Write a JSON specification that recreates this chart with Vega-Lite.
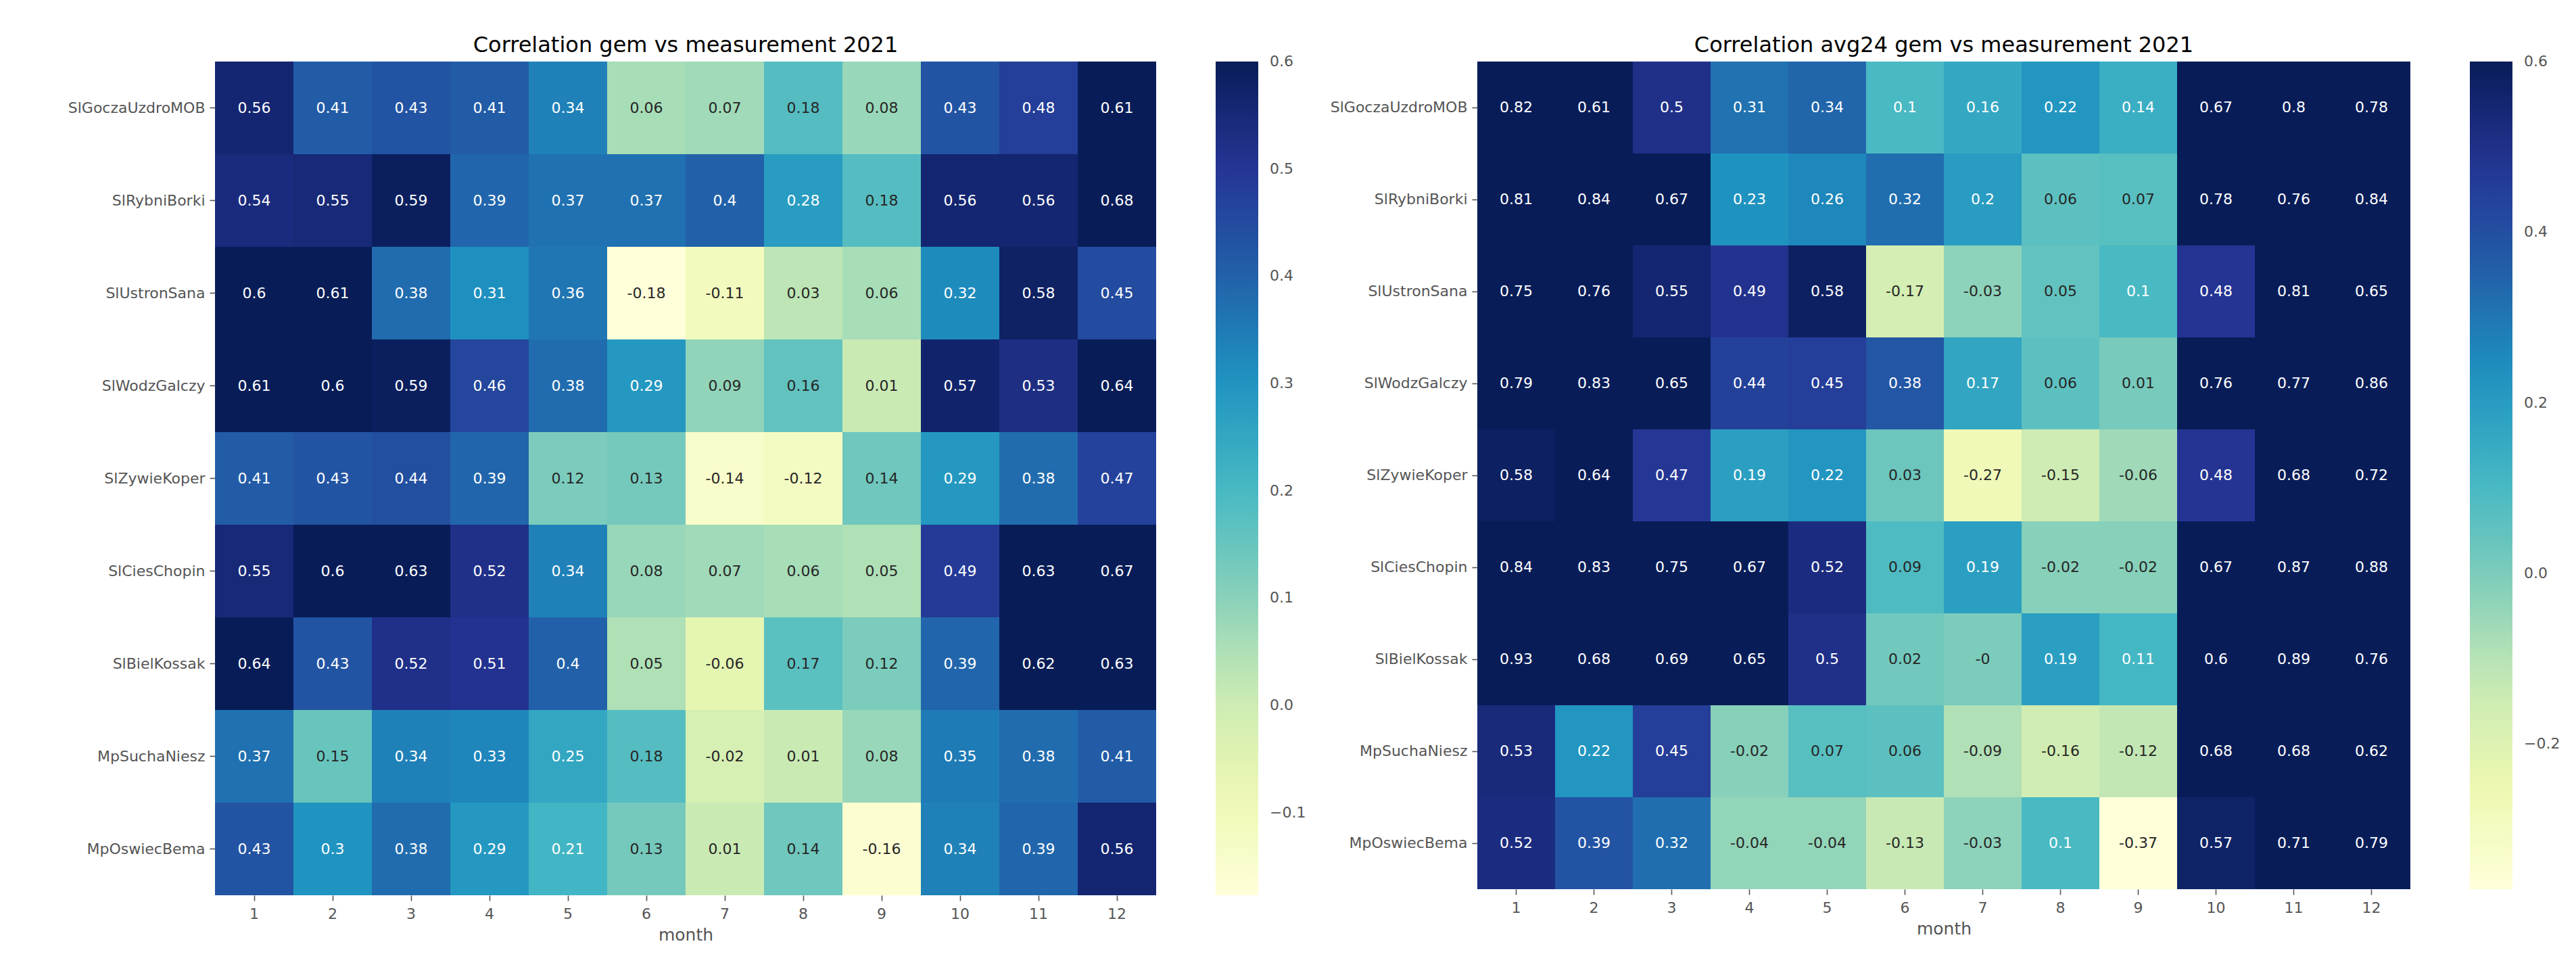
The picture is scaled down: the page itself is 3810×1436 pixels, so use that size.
{
  "$schema": "https://vega.github.io/schema/vega-lite/v6.json",
  "background": "white",
  "padding": {"left": 100, "top": 51, "right": 10, "bottom": 10},
  "config": {
    "font": "DejaVu Sans",
    "view": {"stroke": null},
    "axis": {
      "labelFont": "DejaVu Sans", "labelFontSize": 22, "labelColor": "#555555", "labelLimit": 0,
      "tickColor": "#555555", "tickSize": 8, "tickWidth": 1.6,
      "domain": false, "grid": false,
      "titleFont": "DejaVu Sans", "titleFontSize": 25, "titleFontWeight": "normal", "titleColor": "#555555"
    },
    "title": {"font": "DejaVu Sans", "fontSize": 32, "fontWeight": "normal", "color": "#000000", "frame": "group", "anchor": "middle", "baseline": "alphabetic", "offset": 7}
  },
  "datasets": {
    "gem": [
      {"station":"SlGoczaUzdroMOB","month":1,"value":0.56,"label":"0.56"},
      {"station":"SlGoczaUzdroMOB","month":2,"value":0.41,"label":"0.41"},
      {"station":"SlGoczaUzdroMOB","month":3,"value":0.43,"label":"0.43"},
      {"station":"SlGoczaUzdroMOB","month":4,"value":0.41,"label":"0.41"},
      {"station":"SlGoczaUzdroMOB","month":5,"value":0.34,"label":"0.34"},
      {"station":"SlGoczaUzdroMOB","month":6,"value":0.06,"label":"0.06"},
      {"station":"SlGoczaUzdroMOB","month":7,"value":0.07,"label":"0.07"},
      {"station":"SlGoczaUzdroMOB","month":8,"value":0.18,"label":"0.18"},
      {"station":"SlGoczaUzdroMOB","month":9,"value":0.08,"label":"0.08"},
      {"station":"SlGoczaUzdroMOB","month":10,"value":0.43,"label":"0.43"},
      {"station":"SlGoczaUzdroMOB","month":11,"value":0.48,"label":"0.48"},
      {"station":"SlGoczaUzdroMOB","month":12,"value":0.61,"label":"0.61"},
      {"station":"SlRybniBorki","month":1,"value":0.54,"label":"0.54"},
      {"station":"SlRybniBorki","month":2,"value":0.55,"label":"0.55"},
      {"station":"SlRybniBorki","month":3,"value":0.59,"label":"0.59"},
      {"station":"SlRybniBorki","month":4,"value":0.39,"label":"0.39"},
      {"station":"SlRybniBorki","month":5,"value":0.37,"label":"0.37"},
      {"station":"SlRybniBorki","month":6,"value":0.37,"label":"0.37"},
      {"station":"SlRybniBorki","month":7,"value":0.4,"label":"0.4"},
      {"station":"SlRybniBorki","month":8,"value":0.28,"label":"0.28"},
      {"station":"SlRybniBorki","month":9,"value":0.18,"label":"0.18"},
      {"station":"SlRybniBorki","month":10,"value":0.56,"label":"0.56"},
      {"station":"SlRybniBorki","month":11,"value":0.56,"label":"0.56"},
      {"station":"SlRybniBorki","month":12,"value":0.68,"label":"0.68"},
      {"station":"SlUstronSana","month":1,"value":0.6,"label":"0.6"},
      {"station":"SlUstronSana","month":2,"value":0.61,"label":"0.61"},
      {"station":"SlUstronSana","month":3,"value":0.38,"label":"0.38"},
      {"station":"SlUstronSana","month":4,"value":0.31,"label":"0.31"},
      {"station":"SlUstronSana","month":5,"value":0.36,"label":"0.36"},
      {"station":"SlUstronSana","month":6,"value":-0.18,"label":"-0.18"},
      {"station":"SlUstronSana","month":7,"value":-0.11,"label":"-0.11"},
      {"station":"SlUstronSana","month":8,"value":0.03,"label":"0.03"},
      {"station":"SlUstronSana","month":9,"value":0.06,"label":"0.06"},
      {"station":"SlUstronSana","month":10,"value":0.32,"label":"0.32"},
      {"station":"SlUstronSana","month":11,"value":0.58,"label":"0.58"},
      {"station":"SlUstronSana","month":12,"value":0.45,"label":"0.45"},
      {"station":"SlWodzGalczy","month":1,"value":0.61,"label":"0.61"},
      {"station":"SlWodzGalczy","month":2,"value":0.6,"label":"0.6"},
      {"station":"SlWodzGalczy","month":3,"value":0.59,"label":"0.59"},
      {"station":"SlWodzGalczy","month":4,"value":0.46,"label":"0.46"},
      {"station":"SlWodzGalczy","month":5,"value":0.38,"label":"0.38"},
      {"station":"SlWodzGalczy","month":6,"value":0.29,"label":"0.29"},
      {"station":"SlWodzGalczy","month":7,"value":0.09,"label":"0.09"},
      {"station":"SlWodzGalczy","month":8,"value":0.16,"label":"0.16"},
      {"station":"SlWodzGalczy","month":9,"value":0.01,"label":"0.01"},
      {"station":"SlWodzGalczy","month":10,"value":0.57,"label":"0.57"},
      {"station":"SlWodzGalczy","month":11,"value":0.53,"label":"0.53"},
      {"station":"SlWodzGalczy","month":12,"value":0.64,"label":"0.64"},
      {"station":"SlZywieKoper","month":1,"value":0.41,"label":"0.41"},
      {"station":"SlZywieKoper","month":2,"value":0.43,"label":"0.43"},
      {"station":"SlZywieKoper","month":3,"value":0.44,"label":"0.44"},
      {"station":"SlZywieKoper","month":4,"value":0.39,"label":"0.39"},
      {"station":"SlZywieKoper","month":5,"value":0.12,"label":"0.12"},
      {"station":"SlZywieKoper","month":6,"value":0.13,"label":"0.13"},
      {"station":"SlZywieKoper","month":7,"value":-0.14,"label":"-0.14"},
      {"station":"SlZywieKoper","month":8,"value":-0.12,"label":"-0.12"},
      {"station":"SlZywieKoper","month":9,"value":0.14,"label":"0.14"},
      {"station":"SlZywieKoper","month":10,"value":0.29,"label":"0.29"},
      {"station":"SlZywieKoper","month":11,"value":0.38,"label":"0.38"},
      {"station":"SlZywieKoper","month":12,"value":0.47,"label":"0.47"},
      {"station":"SlCiesChopin","month":1,"value":0.55,"label":"0.55"},
      {"station":"SlCiesChopin","month":2,"value":0.6,"label":"0.6"},
      {"station":"SlCiesChopin","month":3,"value":0.63,"label":"0.63"},
      {"station":"SlCiesChopin","month":4,"value":0.52,"label":"0.52"},
      {"station":"SlCiesChopin","month":5,"value":0.34,"label":"0.34"},
      {"station":"SlCiesChopin","month":6,"value":0.08,"label":"0.08"},
      {"station":"SlCiesChopin","month":7,"value":0.07,"label":"0.07"},
      {"station":"SlCiesChopin","month":8,"value":0.06,"label":"0.06"},
      {"station":"SlCiesChopin","month":9,"value":0.05,"label":"0.05"},
      {"station":"SlCiesChopin","month":10,"value":0.49,"label":"0.49"},
      {"station":"SlCiesChopin","month":11,"value":0.63,"label":"0.63"},
      {"station":"SlCiesChopin","month":12,"value":0.67,"label":"0.67"},
      {"station":"SlBielKossak","month":1,"value":0.64,"label":"0.64"},
      {"station":"SlBielKossak","month":2,"value":0.43,"label":"0.43"},
      {"station":"SlBielKossak","month":3,"value":0.52,"label":"0.52"},
      {"station":"SlBielKossak","month":4,"value":0.51,"label":"0.51"},
      {"station":"SlBielKossak","month":5,"value":0.4,"label":"0.4"},
      {"station":"SlBielKossak","month":6,"value":0.05,"label":"0.05"},
      {"station":"SlBielKossak","month":7,"value":-0.06,"label":"-0.06"},
      {"station":"SlBielKossak","month":8,"value":0.17,"label":"0.17"},
      {"station":"SlBielKossak","month":9,"value":0.12,"label":"0.12"},
      {"station":"SlBielKossak","month":10,"value":0.39,"label":"0.39"},
      {"station":"SlBielKossak","month":11,"value":0.62,"label":"0.62"},
      {"station":"SlBielKossak","month":12,"value":0.63,"label":"0.63"},
      {"station":"MpSuchaNiesz","month":1,"value":0.37,"label":"0.37"},
      {"station":"MpSuchaNiesz","month":2,"value":0.15,"label":"0.15"},
      {"station":"MpSuchaNiesz","month":3,"value":0.34,"label":"0.34"},
      {"station":"MpSuchaNiesz","month":4,"value":0.33,"label":"0.33"},
      {"station":"MpSuchaNiesz","month":5,"value":0.25,"label":"0.25"},
      {"station":"MpSuchaNiesz","month":6,"value":0.18,"label":"0.18"},
      {"station":"MpSuchaNiesz","month":7,"value":-0.02,"label":"-0.02"},
      {"station":"MpSuchaNiesz","month":8,"value":0.01,"label":"0.01"},
      {"station":"MpSuchaNiesz","month":9,"value":0.08,"label":"0.08"},
      {"station":"MpSuchaNiesz","month":10,"value":0.35,"label":"0.35"},
      {"station":"MpSuchaNiesz","month":11,"value":0.38,"label":"0.38"},
      {"station":"MpSuchaNiesz","month":12,"value":0.41,"label":"0.41"},
      {"station":"MpOswiecBema","month":1,"value":0.43,"label":"0.43"},
      {"station":"MpOswiecBema","month":2,"value":0.3,"label":"0.3"},
      {"station":"MpOswiecBema","month":3,"value":0.38,"label":"0.38"},
      {"station":"MpOswiecBema","month":4,"value":0.29,"label":"0.29"},
      {"station":"MpOswiecBema","month":5,"value":0.21,"label":"0.21"},
      {"station":"MpOswiecBema","month":6,"value":0.13,"label":"0.13"},
      {"station":"MpOswiecBema","month":7,"value":0.01,"label":"0.01"},
      {"station":"MpOswiecBema","month":8,"value":0.14,"label":"0.14"},
      {"station":"MpOswiecBema","month":9,"value":-0.16,"label":"-0.16"},
      {"station":"MpOswiecBema","month":10,"value":0.34,"label":"0.34"},
      {"station":"MpOswiecBema","month":11,"value":0.39,"label":"0.39"},
      {"station":"MpOswiecBema","month":12,"value":0.56,"label":"0.56"}
    ],
    "avg24": [
      {"station":"SlGoczaUzdroMOB","month":1,"value":0.82,"label":"0.82"},
      {"station":"SlGoczaUzdroMOB","month":2,"value":0.61,"label":"0.61"},
      {"station":"SlGoczaUzdroMOB","month":3,"value":0.5,"label":"0.5"},
      {"station":"SlGoczaUzdroMOB","month":4,"value":0.31,"label":"0.31"},
      {"station":"SlGoczaUzdroMOB","month":5,"value":0.34,"label":"0.34"},
      {"station":"SlGoczaUzdroMOB","month":6,"value":0.1,"label":"0.1"},
      {"station":"SlGoczaUzdroMOB","month":7,"value":0.16,"label":"0.16"},
      {"station":"SlGoczaUzdroMOB","month":8,"value":0.22,"label":"0.22"},
      {"station":"SlGoczaUzdroMOB","month":9,"value":0.14,"label":"0.14"},
      {"station":"SlGoczaUzdroMOB","month":10,"value":0.67,"label":"0.67"},
      {"station":"SlGoczaUzdroMOB","month":11,"value":0.8,"label":"0.8"},
      {"station":"SlGoczaUzdroMOB","month":12,"value":0.78,"label":"0.78"},
      {"station":"SlRybniBorki","month":1,"value":0.81,"label":"0.81"},
      {"station":"SlRybniBorki","month":2,"value":0.84,"label":"0.84"},
      {"station":"SlRybniBorki","month":3,"value":0.67,"label":"0.67"},
      {"station":"SlRybniBorki","month":4,"value":0.23,"label":"0.23"},
      {"station":"SlRybniBorki","month":5,"value":0.26,"label":"0.26"},
      {"station":"SlRybniBorki","month":6,"value":0.32,"label":"0.32"},
      {"station":"SlRybniBorki","month":7,"value":0.2,"label":"0.2"},
      {"station":"SlRybniBorki","month":8,"value":0.06,"label":"0.06"},
      {"station":"SlRybniBorki","month":9,"value":0.07,"label":"0.07"},
      {"station":"SlRybniBorki","month":10,"value":0.78,"label":"0.78"},
      {"station":"SlRybniBorki","month":11,"value":0.76,"label":"0.76"},
      {"station":"SlRybniBorki","month":12,"value":0.84,"label":"0.84"},
      {"station":"SlUstronSana","month":1,"value":0.75,"label":"0.75"},
      {"station":"SlUstronSana","month":2,"value":0.76,"label":"0.76"},
      {"station":"SlUstronSana","month":3,"value":0.55,"label":"0.55"},
      {"station":"SlUstronSana","month":4,"value":0.49,"label":"0.49"},
      {"station":"SlUstronSana","month":5,"value":0.58,"label":"0.58"},
      {"station":"SlUstronSana","month":6,"value":-0.17,"label":"-0.17"},
      {"station":"SlUstronSana","month":7,"value":-0.03,"label":"-0.03"},
      {"station":"SlUstronSana","month":8,"value":0.05,"label":"0.05"},
      {"station":"SlUstronSana","month":9,"value":0.1,"label":"0.1"},
      {"station":"SlUstronSana","month":10,"value":0.48,"label":"0.48"},
      {"station":"SlUstronSana","month":11,"value":0.81,"label":"0.81"},
      {"station":"SlUstronSana","month":12,"value":0.65,"label":"0.65"},
      {"station":"SlWodzGalczy","month":1,"value":0.79,"label":"0.79"},
      {"station":"SlWodzGalczy","month":2,"value":0.83,"label":"0.83"},
      {"station":"SlWodzGalczy","month":3,"value":0.65,"label":"0.65"},
      {"station":"SlWodzGalczy","month":4,"value":0.44,"label":"0.44"},
      {"station":"SlWodzGalczy","month":5,"value":0.45,"label":"0.45"},
      {"station":"SlWodzGalczy","month":6,"value":0.38,"label":"0.38"},
      {"station":"SlWodzGalczy","month":7,"value":0.17,"label":"0.17"},
      {"station":"SlWodzGalczy","month":8,"value":0.06,"label":"0.06"},
      {"station":"SlWodzGalczy","month":9,"value":0.01,"label":"0.01"},
      {"station":"SlWodzGalczy","month":10,"value":0.76,"label":"0.76"},
      {"station":"SlWodzGalczy","month":11,"value":0.77,"label":"0.77"},
      {"station":"SlWodzGalczy","month":12,"value":0.86,"label":"0.86"},
      {"station":"SlZywieKoper","month":1,"value":0.58,"label":"0.58"},
      {"station":"SlZywieKoper","month":2,"value":0.64,"label":"0.64"},
      {"station":"SlZywieKoper","month":3,"value":0.47,"label":"0.47"},
      {"station":"SlZywieKoper","month":4,"value":0.19,"label":"0.19"},
      {"station":"SlZywieKoper","month":5,"value":0.22,"label":"0.22"},
      {"station":"SlZywieKoper","month":6,"value":0.03,"label":"0.03"},
      {"station":"SlZywieKoper","month":7,"value":-0.27,"label":"-0.27"},
      {"station":"SlZywieKoper","month":8,"value":-0.15,"label":"-0.15"},
      {"station":"SlZywieKoper","month":9,"value":-0.06,"label":"-0.06"},
      {"station":"SlZywieKoper","month":10,"value":0.48,"label":"0.48"},
      {"station":"SlZywieKoper","month":11,"value":0.68,"label":"0.68"},
      {"station":"SlZywieKoper","month":12,"value":0.72,"label":"0.72"},
      {"station":"SlCiesChopin","month":1,"value":0.84,"label":"0.84"},
      {"station":"SlCiesChopin","month":2,"value":0.83,"label":"0.83"},
      {"station":"SlCiesChopin","month":3,"value":0.75,"label":"0.75"},
      {"station":"SlCiesChopin","month":4,"value":0.67,"label":"0.67"},
      {"station":"SlCiesChopin","month":5,"value":0.52,"label":"0.52"},
      {"station":"SlCiesChopin","month":6,"value":0.09,"label":"0.09"},
      {"station":"SlCiesChopin","month":7,"value":0.19,"label":"0.19"},
      {"station":"SlCiesChopin","month":8,"value":-0.02,"label":"-0.02"},
      {"station":"SlCiesChopin","month":9,"value":-0.02,"label":"-0.02"},
      {"station":"SlCiesChopin","month":10,"value":0.67,"label":"0.67"},
      {"station":"SlCiesChopin","month":11,"value":0.87,"label":"0.87"},
      {"station":"SlCiesChopin","month":12,"value":0.88,"label":"0.88"},
      {"station":"SlBielKossak","month":1,"value":0.93,"label":"0.93"},
      {"station":"SlBielKossak","month":2,"value":0.68,"label":"0.68"},
      {"station":"SlBielKossak","month":3,"value":0.69,"label":"0.69"},
      {"station":"SlBielKossak","month":4,"value":0.65,"label":"0.65"},
      {"station":"SlBielKossak","month":5,"value":0.5,"label":"0.5"},
      {"station":"SlBielKossak","month":6,"value":0.02,"label":"0.02"},
      {"station":"SlBielKossak","month":7,"value":0,"label":"-0"},
      {"station":"SlBielKossak","month":8,"value":0.19,"label":"0.19"},
      {"station":"SlBielKossak","month":9,"value":0.11,"label":"0.11"},
      {"station":"SlBielKossak","month":10,"value":0.6,"label":"0.6"},
      {"station":"SlBielKossak","month":11,"value":0.89,"label":"0.89"},
      {"station":"SlBielKossak","month":12,"value":0.76,"label":"0.76"},
      {"station":"MpSuchaNiesz","month":1,"value":0.53,"label":"0.53"},
      {"station":"MpSuchaNiesz","month":2,"value":0.22,"label":"0.22"},
      {"station":"MpSuchaNiesz","month":3,"value":0.45,"label":"0.45"},
      {"station":"MpSuchaNiesz","month":4,"value":-0.02,"label":"-0.02"},
      {"station":"MpSuchaNiesz","month":5,"value":0.07,"label":"0.07"},
      {"station":"MpSuchaNiesz","month":6,"value":0.06,"label":"0.06"},
      {"station":"MpSuchaNiesz","month":7,"value":-0.09,"label":"-0.09"},
      {"station":"MpSuchaNiesz","month":8,"value":-0.16,"label":"-0.16"},
      {"station":"MpSuchaNiesz","month":9,"value":-0.12,"label":"-0.12"},
      {"station":"MpSuchaNiesz","month":10,"value":0.68,"label":"0.68"},
      {"station":"MpSuchaNiesz","month":11,"value":0.68,"label":"0.68"},
      {"station":"MpSuchaNiesz","month":12,"value":0.62,"label":"0.62"},
      {"station":"MpOswiecBema","month":1,"value":0.52,"label":"0.52"},
      {"station":"MpOswiecBema","month":2,"value":0.39,"label":"0.39"},
      {"station":"MpOswiecBema","month":3,"value":0.32,"label":"0.32"},
      {"station":"MpOswiecBema","month":4,"value":-0.04,"label":"-0.04"},
      {"station":"MpOswiecBema","month":5,"value":-0.04,"label":"-0.04"},
      {"station":"MpOswiecBema","month":6,"value":-0.13,"label":"-0.13"},
      {"station":"MpOswiecBema","month":7,"value":-0.03,"label":"-0.03"},
      {"station":"MpOswiecBema","month":8,"value":0.1,"label":"0.1"},
      {"station":"MpOswiecBema","month":9,"value":-0.37,"label":"-0.37"},
      {"station":"MpOswiecBema","month":10,"value":0.57,"label":"0.57"},
      {"station":"MpOswiecBema","month":11,"value":0.71,"label":"0.71"},
      {"station":"MpOswiecBema","month":12,"value":0.79,"label":"0.79"}
    ]
  },
  "hconcat": [
    {
      "title": "Correlation gem vs measurement 2021",
      "width": 1392,
      "height": 1233,
      "data": {"name": "gem"},
      "encoding": {
        "x": {"field": "month", "type": "ordinal", "sort": "ascending", "scale": {"paddingInner": 0, "paddingOuter": 0}, "axis": {"title": "month", "labelAngle": 0, "labelPadding": 9, "titlePadding": 8}},
        "y": {"field": "station", "type": "nominal", "sort": ["SlGoczaUzdroMOB","SlRybniBorki","SlUstronSana","SlWodzGalczy","SlZywieKoper","SlCiesChopin","SlBielKossak","MpSuchaNiesz","MpOswiecBema"], "scale": {"paddingInner": 0, "paddingOuter": 0}, "axis": {"title": null, "labelPadding": 7}}
      },
      "layer": [
        {
          "mark": {"type": "rect", "strokeWidth": 0},
          "encoding": {
            "color": {
              "field": "value", "type": "quantitative",
              "scale": {"domain": [-0.177, -0.079875, 0.01725, 0.114375, 0.2115, 0.308625, 0.40575, 0.502875, 0.6], "range": ["#ffffd9", "#edf8b1", "#c7e9b4", "#7fcdbb", "#41b6c4", "#1d91c0", "#225ea8", "#253494", "#081d58"], "interpolate": "rgb", "clamp": true},
              "legend": {"type": "gradient", "title": null, "orient": "none", "legendX": 1480, "legendY": 0, "direction": "vertical", "gradientLength": 1233, "gradientThickness": 63, "gradientStrokeWidth": 0, "values": [0.6, 0.5, 0.4, 0.3, 0.2, 0.1, 0, -0.1], "format": ".1f", "labelFont": "DejaVu Sans", "labelFontSize": 22, "labelColor": "#555555", "labelOffset": 17, "labelOverlap": false, "padding": 0, "encode": {"labels": {"update": {"baseline": {"value": "middle"}}}}}
            }
          }
        },
        {
          "mark": {"type": "text", "fontSize": 22, "font": "DejaVu Sans"},
          "encoding": {
            "text": {"field": "label"},
            "color": {"condition": {"test": "datum.value >= 0.195", "value": "#ffffff"}, "value": "#262626"}
          }
        }
      ]
    },
    {
      "title": "Correlation avg24 gem vs measurement 2021",
      "width": 1380,
      "height": 1224,
      "data": {"name": "avg24"},
      "encoding": {
        "x": {"field": "month", "type": "ordinal", "sort": "ascending", "scale": {"paddingInner": 0, "paddingOuter": 0}, "axis": {"title": "month", "labelAngle": 0, "labelPadding": 9, "titlePadding": 8}},
        "y": {"field": "station", "type": "nominal", "sort": ["SlGoczaUzdroMOB","SlRybniBorki","SlUstronSana","SlWodzGalczy","SlZywieKoper","SlCiesChopin","SlBielKossak","MpSuchaNiesz","MpOswiecBema"], "scale": {"paddingInner": 0, "paddingOuter": 0}, "axis": {"title": null, "labelPadding": 7}}
      },
      "layer": [
        {
          "mark": {"type": "rect", "strokeWidth": 0},
          "encoding": {
            "color": {
              "field": "value", "type": "quantitative",
              "scale": {"domain": [-0.37, -0.24875, -0.1275, -0.00625, 0.115, 0.23625, 0.3575, 0.47875, 0.6], "range": ["#ffffd9", "#edf8b1", "#c7e9b4", "#7fcdbb", "#41b6c4", "#1d91c0", "#225ea8", "#253494", "#081d58"], "interpolate": "rgb", "clamp": true},
              "legend": {"type": "gradient", "title": null, "orient": "none", "legendX": 1468, "legendY": 0, "direction": "vertical", "gradientLength": 1224, "gradientThickness": 63, "gradientStrokeWidth": 0, "values": [0.6, 0.4, 0.2, 0, -0.2], "format": ".1f", "labelFont": "DejaVu Sans", "labelFontSize": 22, "labelColor": "#555555", "labelOffset": 17, "labelOverlap": false, "padding": 0, "encode": {"labels": {"update": {"baseline": {"value": "middle"}}}}}
            }
          }
        },
        {
          "mark": {"type": "text", "fontSize": 22, "font": "DejaVu Sans"},
          "encoding": {
            "text": {"field": "label"},
            "color": {"condition": {"test": "datum.value >= 0.095", "value": "#ffffff"}, "value": "#262626"}
          }
        }
      ]
    }
  ],
  "resolve": {"scale": {"color": "independent", "x": "independent", "y": "independent"}},
  "bounds": "flush",
  "spacing": 475
}
